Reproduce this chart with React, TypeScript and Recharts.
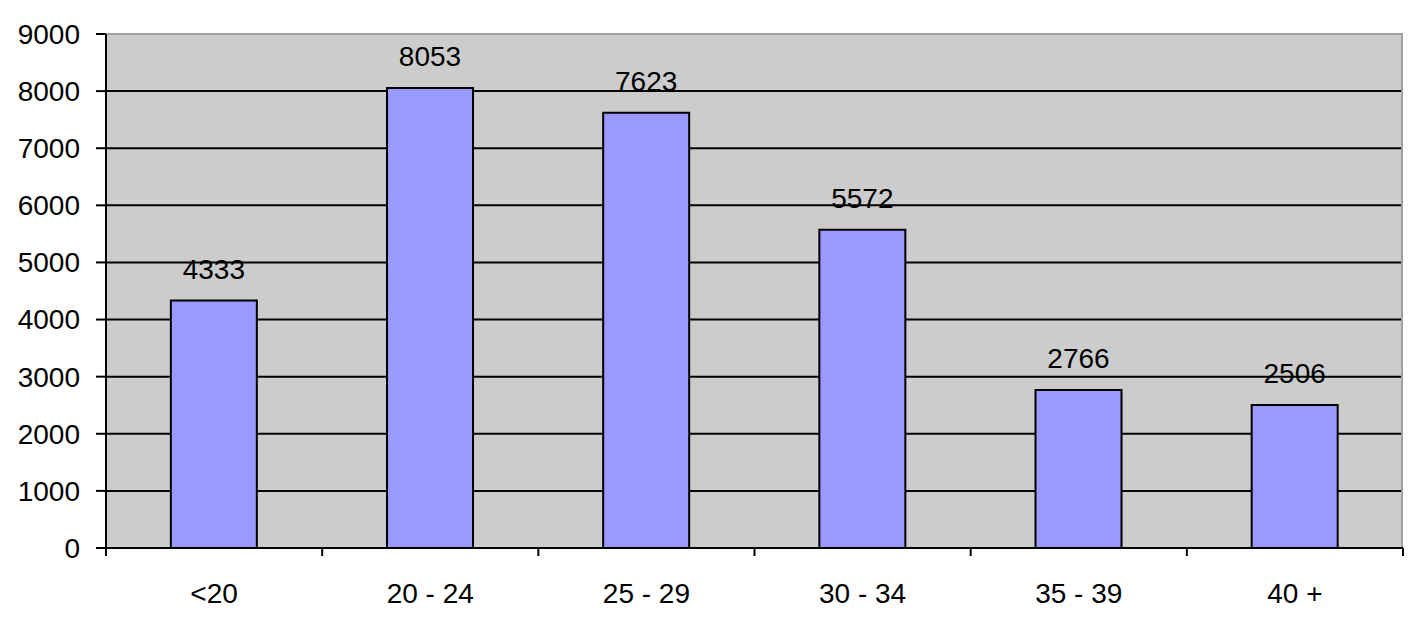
import { BarChart, Bar, XAxis, YAxis, CartesianGrid, LabelList, ReferenceLine } from "recharts"

const ageGroups = ["<20", "20 - 24", "25 - 29", "30 - 34", "35 - 39", "40 +"]
const counts = [4333, 8053, 7623, 5572, 2766, 2506]
const yTicks = [0, 1000, 2000, 3000, 4000, 5000, 6000, 7000, 8000, 9000]

const data = ageGroups.map((group, i) => ({ group, count: counts[i] }))

const font = "'Liberation Sans', Arial, sans-serif"
const textStyle = { fill: "#000", fontSize: 28, fontFamily: font }
const LABEL_GAP = 35
const TICK_LEN = 8

// category label plus tick marks on the boundaries between categories
function GroupTick(props: any) {
  const { x, y, payload, index } = props
  const half = payload.offset ?? 0
  const axisY = y - LABEL_GAP
  const last = index === ageGroups.length - 1
  return (
    <g>
      <line x1={x - half} x2={x - half} y1={axisY} y2={axisY + TICK_LEN} stroke="#000" strokeWidth={2} />
      {last && <line x1={x + half} x2={x + half} y1={axisY} y2={axisY + TICK_LEN} stroke="#000" strokeWidth={2} />}
      <text x={x} y={y} dy="0.71em" textAnchor="middle" {...textStyle}>
        {payload.value}
      </text>
    </g>
  )
}

// right-hand border of the plot area
const rightEdge = ({ offset }: any) => [offset.left + offset.width - 1]

export default function App() {
  return (
    <div style={{ width: 1417, height: 633, background: "#fff" }}>
      <style>{"body{margin:0}"}</style>
      <BarChart
        width={1417}
        height={633}
        data={data}
        margin={{ top: 34, right: 14, bottom: 0, left: 0 }}
        barCategoryGap="30%"
      >
        <CartesianGrid vertical={false} fill="#cccccc" stroke="#000" strokeWidth={2} />
        <CartesianGrid horizontal={false} verticalCoordinatesGenerator={rightEdge} stroke="#a0a0a0" strokeWidth={2} />
        <XAxis
          dataKey="group"
          axisLine={{ stroke: "#000", strokeWidth: 2 }}
          tickLine={false}
          tickSize={0}
          tickMargin={LABEL_GAP}
          height={85}
          tick={GroupTick}
          interval={0}
        />
        <YAxis
          domain={[0, 9000]}
          ticks={yTicks}
          interval={0}
          width={106}
          tickSize={10}
          tickMargin={16}
          tick={textStyle}
          axisLine={{ stroke: "#000", strokeWidth: 2 }}
          tickLine={{ stroke: "#000", strokeWidth: 2 }}
        />
        <ReferenceLine y={9000} stroke="#a0a0a0" strokeWidth={2} />
        <Bar dataKey="count" fill="#9999ff" stroke="#000" strokeWidth={2} isAnimationActive={false}>
          <LabelList dataKey="count" position="top" offset={22} style={textStyle} />
        </Bar>
      </BarChart>
    </div>
  )
}
